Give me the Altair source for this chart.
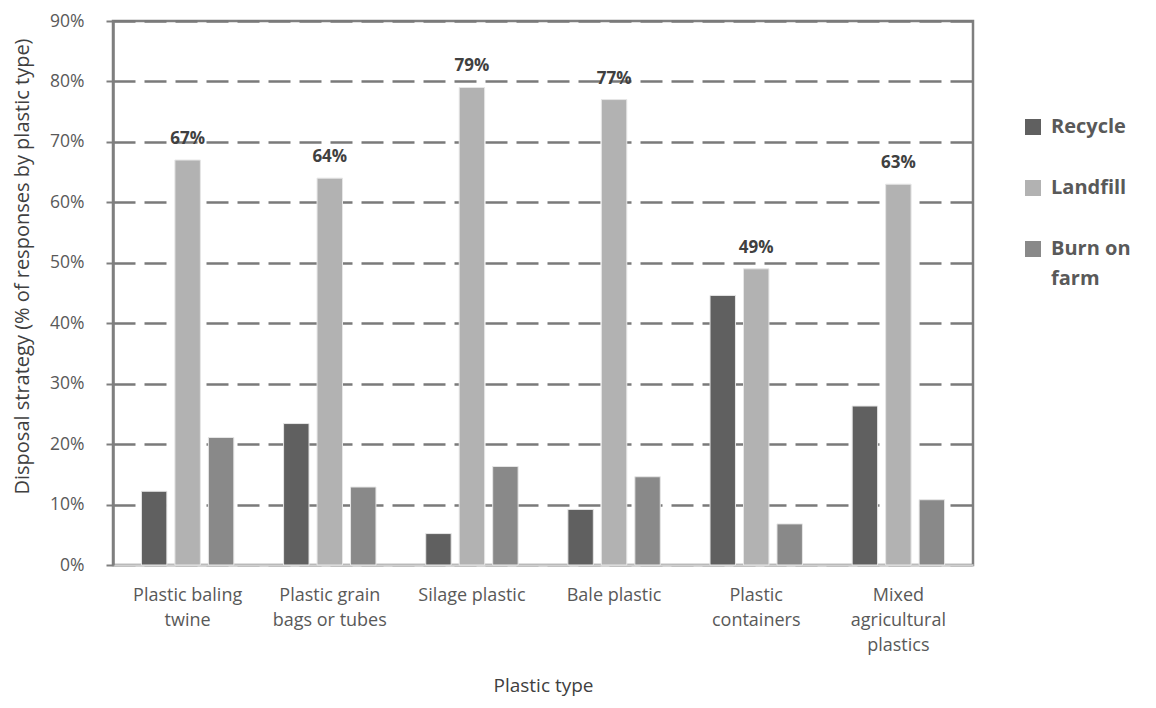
import altair as alt
import pandas as pd

categories = ["Plastic baling twine", "Plastic grain bags or tubes", "Silage plastic",
              "Bale plastic", "Plastic containers", "Mixed agricultural plastics"]
label_lines = [["Plastic baling", "twine"], ["Plastic grain", "bags or tubes"], ["Silage plastic"],
               ["Bale plastic"], ["Plastic", "containers"], ["Mixed", "agricultural", "plastics"]]
series = ["Recycle", "Landfill", "Burn on farm"]
recycle = [12.2, 23.4, 5.2, 9.2, 44.6, 26.3]
landfill = [67, 64, 79, 77, 49, 63]
burn = [21.1, 12.9, 16.3, 14.6, 6.8, 10.8]
colors = ["#606060", "#b2b2b2", "#898989"]

FONT = "Open Sans"

rows = []
for i, c in enumerate(categories):
    for s, vals in zip(series, [recycle, landfill, burn]):
        rows.append({"type": c, "strategy": s, "value": vals[i] / 100.0})
df = pd.DataFrame(rows)
lab = pd.DataFrame({"type": categories, "strategy": "Landfill",
                    "value": [v / 100.0 for v in landfill],
                    "txt": [f"{v}%" for v in landfill]})

label_expr = " : ".join(
    [f"datum.label == '{c}' ? {l}" for c, l in zip(categories, label_lines)]) + " : datum.label"

x = alt.X("type:N", sort=categories, title="Plastic type",
          scale=alt.Scale(paddingInner=0.35, paddingOuter=0.2),
          axis=alt.Axis(labelAngle=0, labelExpr=label_expr, labelFont=FONT, labelFontSize=18,
                        labelColor="#595959", labelLineHeight=25, labelPadding=21, ticks=False,
                        domainColor="#d0d0d0", domainWidth=2.5, titleFont=FONT,
                        titleFontSize=19, titleFontWeight="normal", titleColor="#404040",
                        titlePadding=22))
y = alt.Y("value:Q", title="Disposal strategy (% of responses by plastic type)",
          scale=alt.Scale(domain=[0, 0.9]),
          axis=alt.Axis(format=".0%", values=[i / 10 for i in range(10)], labelFont=FONT,
                        labelFontSize=17.5, labelColor="#595959", tickColor="#7f7f7f",
                        tickSize=7, tickWidth=2, domainColor="#7f7f7f", domainWidth=2.5,
                        gridColor="#7a7a7a", gridDash=[22, 9], gridWidth=2.5, labelPadding=22,
                        labelLineHeight=18,
                        titleFont=FONT, titleFontSize=20, titleFontWeight="normal",
                        titleColor="#404040", titlePadding=17, titleY=245))

bars = alt.Chart(df).mark_bar(stroke="#e6e6e6", strokeWidth=1).encode(
    x=x, y=y,
    xOffset=alt.XOffset("strategy:N", sort=series, scale=alt.Scale(paddingInner=0.24)),
    color=alt.Color("strategy:N", sort=series,
                    scale=alt.Scale(domain=series, range=colors),
                    legend=alt.Legend(title=None, orient="none", legendX=910, legendY=96,
                                      symbolType="square", symbolSize=256, symbolStrokeWidth=0,
                                      labelFont=FONT, labelFontSize=20, labelFontWeight="bold",
                                      labelColor="#595959", rowPadding=41, labelOffset=8,
                                      labelExpr="datum.label == 'Burn on farm' ? ['Burn on', 'farm'] : datum.label")),
)

texts = alt.Chart(lab).mark_text(font=FONT, fontSize=17, fontWeight="bold", color="#404040",
                                  dy=-21).encode(
    x=alt.X("type:N", sort=categories),
    xOffset=alt.XOffset("strategy:N", sort=series),
    y="value:Q", text="txt:N")

chart = alt.layer(bars, texts).properties(
    width=860, height=544,
    autosize=alt.AutoSizeParams(type="none"),
    padding={"left": 105, "top": 13, "right": 175, "bottom": 135},
).configure(
    background="white",
    view=alt.ViewConfig(stroke="#7f7f7f", strokeWidth=2.5),
    style={"guide-label": {"lineHeight": 30}},
)

chart.save("out.html", embed_options={"renderer": "svg", "actions": False})
